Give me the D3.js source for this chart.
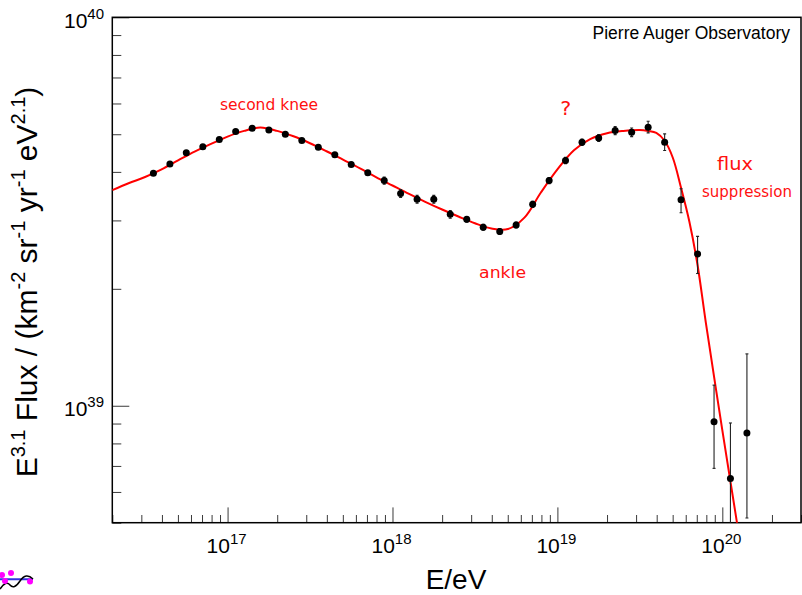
<!DOCTYPE html>
<html>
<head>
<meta charset="utf-8">
<script src="https://cdn.jsdelivr.net/npm/d3@7"></script>
<style>
  html, body { margin: 0; padding: 0; background: #fff; }
  svg { display: block; font-family: "Liberation Sans", Arial, Helvetica, sans-serif; }
</style>
</head>
<body>
<svg id="chart" width="802" height="595"></svg>
<script>
// ---- Measured spectrum: bin centres in eV and E^3.1-weighted flux ----
const energy = [
  3.55e16, 4.47e16, 5.62e16, 7.08e16, 8.91e16,
  1.12e17, 1.41e17, 1.78e17, 2.24e17, 2.82e17, 3.55e17, 4.47e17, 5.62e17, 7.08e17, 8.91e17,
  1.12e18, 1.41e18, 1.78e18, 2.24e18, 2.82e18, 3.55e18, 4.47e18, 5.62e18, 7.08e18, 8.91e18,
  1.12e19, 1.41e19, 1.78e19, 2.24e19, 2.82e19, 3.55e19, 4.47e19, 5.62e19, 7.08e19, 8.91e19,
  1.12e20, 1.41e20
];
const flux = [
  3.97e39, 4.19e39, 4.48e39, 4.64e39, 4.85e39,
  5.08e39, 5.18e39, 5.13e39, 5.00e39, 4.82e39, 4.63e39, 4.43e39, 4.18e39, 3.98e39, 3.80e39,
  3.52e39, 3.40e39, 3.40e39, 3.11e39, 3.02e39, 2.88e39, 2.81e39, 2.92e39, 3.30e39, 3.80e39,
  4.28e39, 4.77e39, 4.89e39, 5.11e39, 5.06e39, 5.21e39, 4.77e39, 3.39e39, 2.46e39, 9.10e38,
  6.50e38, 8.51e38
];
// statistical uncertainties (absolute, same units as flux)
const fluxErrUp = [
  0.02e39, 0.02e39, 0.02e39, 0.02e39, 0.02e39,
  0.02e39, 0.02e39, 0.02e39, 0.02e39, 0.02e39, 0.02e39, 0.02e39, 0.02e39, 0.02e39, 0.08e39,
  0.08e39, 0.08e39, 0.08e39, 0.07e39, 0.05e39, 0.05e39, 0.05e39, 0.05e39, 0.06e39, 0.07e39,
  0.08e39, 0.09e39, 0.10e39, 0.12e39, 0.13e39, 0.19e39, 0.24e39, 0.23e39, 0.27e39, 0.22e39,
  0.253e39, 0.509e39
];
const fluxErrDown = [
  0.02e39, 0.02e39, 0.02e39, 0.02e39, 0.02e39,
  0.02e39, 0.02e39, 0.02e39, 0.02e39, 0.02e39, 0.02e39, 0.02e39, 0.02e39, 0.02e39, 0.08e39,
  0.08e39, 0.08e39, 0.08e39, 0.07e39, 0.05e39, 0.05e39, 0.05e39, 0.05e39, 0.06e39, 0.07e39,
  0.08e39, 0.09e39, 0.10e39, 0.12e39, 0.13e39, 0.17e39, 0.23e39, 0.25e39, 0.27e39, 0.22e39,
  0.35e39, 0.337e39
];

// ---- Fitted spectral model (sampled) ----
const fitEnergy = [
  2.00e16, 2.51e16, 3.16e16, 3.98e16, 5.01e16, 6.31e16, 7.94e16,
  1.00e17, 1.26e17, 1.58e17, 2.00e17, 2.51e17, 3.16e17, 3.98e17, 5.01e17, 6.31e17, 7.94e17,
  1.00e18, 1.26e18, 1.58e18, 2.00e18, 2.51e18, 3.16e18, 3.98e18, 5.01e18, 6.31e18, 7.94e18,
  1.00e19, 1.26e19, 1.58e19, 2.00e19, 2.51e19, 3.16e19, 3.55e19, 3.98e19, 4.47e19, 5.01e19,
  5.62e19, 6.31e19, 7.08e19, 7.94e19, 1.00e20, 1.26e20
];
const fitFlux = [
  3.59e39, 3.74e39, 3.88e39, 4.06e39, 4.28e39, 4.51e39, 4.72e39,
  4.93e39, 5.10e39, 5.20e39, 5.10e39, 4.94e39, 4.74e39, 4.52e39, 4.30e39, 4.09e39, 3.88e39,
  3.69e39, 3.51e39, 3.35e39, 3.20e39, 3.07e39, 2.95e39, 2.86e39, 2.85e39, 3.05e39, 3.54e39,
  4.06e39, 4.55e39, 4.86e39, 5.03e39, 5.10e39, 5.13e39, 5.10e39, 5.04e39, 4.81e39, 4.35e39,
  3.64e39, 2.98e39, 2.30e39, 1.64e39, 8.66e38, 4.66e38
];

// ---- Axis settings ----
const xDomain = [2e16, 3e20];
const yDomain = [5e38, 1e40];
const xTitle = "E/eV";
const chartLabel = "Pierre Auger Observatory";
// hand annotations: text, anchor energy / flux (left end of baseline), width in px
const notes = [
  { text: "second knee", e: 9.0e16,  f: 5.77e39, w: 98, size: 16 },
  { text: "?",           e: 1.04e19, f: 5.62e39, w: 11, size: 19 },
  { text: "ankle",       e: 3.35e18, f: 2.13e39, w: 47, size: 16 },
  { text: "flux",        e: 9.29e19, f: 4.05e39, w: 36, size: 18 },
  { text: "suppression", e: 7.53e19, f: 3.45e39, w: 90, size: 16 }
];

// ---- Layout ----
const box = { left: 112.3, right: 801, top: 17.3, bottom: 522.7 };
const svg = d3.select("#chart");

const x = d3.scaleLog().domain(xDomain).range([box.left, box.right]);
const y = d3.scaleLog().domain(yDomain).range([box.bottom, box.top]);

const isDecade = v => Math.abs(Math.log10(v) - Math.round(Math.log10(v))) < 1e-9;

svg.append("defs").append("clipPath").attr("id", "plotArea")
  .append("rect")
  .attr("x", box.left).attr("y", box.top)
  .attr("width", box.right - box.left).attr("height", box.bottom - box.top);

// ---- Ticks (drawn inward, ROOT style) ----
const xTicks = x.ticks();
const yTicks = y.ticks();

const gx = svg.append("g").attr("transform", `translate(0,${box.bottom})`);
gx.append("g").call(d3.axisBottom(x).tickValues(xTicks.filter(v => !isDecade(v)))
  .tickSize(-7.7).tickFormat(""));
gx.append("g").call(d3.axisBottom(x).tickValues(xTicks.filter(isDecade))
  .tickSize(-15.3).tickFormat(""));

const gy = svg.append("g").attr("transform", `translate(${box.left},0)`);
gy.append("g").call(d3.axisLeft(y).tickValues(yTicks.filter(v => !isDecade(v)))
  .tickSize(-9).tickFormat(""));
gy.append("g").call(d3.axisLeft(y).tickValues(yTicks.filter(isDecade))
  .tickSize(-17).tickFormat(""));

svg.selectAll(".domain").remove();
svg.selectAll(".tick line").attr("stroke", "#3a3a3a").attr("stroke-width", 1);

// power-of-ten labels
function powerLabel(g, v, xPos, yPos, anchor) {
  const t = g.append("text")
    .attr("x", xPos).attr("y", yPos)
    .attr("text-anchor", anchor)
    .attr("fill", "#000")
    .style("font-size", "21px");
  t.append("tspan").text("10");
  t.append("tspan").attr("dy", -9.3).style("font-size", "15px")
    .text(String(Math.round(Math.log10(v))));
}
const labels = svg.append("g");
xTicks.filter(isDecade).forEach(v => powerLabel(labels, v, x(v) - 1, 553.3, "middle"));
yTicks.filter(isDecade).forEach(v => powerLabel(labels, v, 104, y(v) + 10.5, "end"));

// ---- Frame ----
svg.append("rect")
  .attr("x", box.left).attr("y", box.top)
  .attr("width", box.right - box.left).attr("height", box.bottom - box.top)
  .attr("fill", "none").attr("stroke", "#000").attr("stroke-width", 1.5);

// ---- Fit curve ----
const fitLine = d3.line()
  .x(d => x(d[0])).y(d => y(d[1]))
  .curve(d3.curveCatmullRom.alpha(0.5));
svg.append("path")
  .datum(fitEnergy.map((e, i) => [e, fitFlux[i]]))
  .attr("clip-path", "url(#plotArea)")
  .attr("d", fitLine)
  .attr("fill", "none").attr("stroke", "#ff0000").attr("stroke-width", 2);

// ---- Data points with error bars ----
const pts = energy.map((e, i) => ({
  e, f: flux[i], hi: flux[i] + fluxErrUp[i], lo: flux[i] - fluxErrDown[i]
}));
const gp = svg.append("g").attr("clip-path", "url(#plotArea)");
const bars = gp.selectAll("g.err").data(pts).join("g").attr("class", "err")
  .attr("stroke", "#222").attr("stroke-width", 1.1);
bars.append("line")
  .attr("x1", d => x(d.e)).attr("x2", d => x(d.e))
  .attr("y1", d => y(d.hi)).attr("y2", d => y(d.lo));
bars.append("line")
  .attr("x1", d => x(d.e) - 1.5).attr("x2", d => x(d.e) + 1.5)
  .attr("y1", d => y(d.hi)).attr("y2", d => y(d.hi));
bars.append("line")
  .attr("x1", d => x(d.e) - 1.5).attr("x2", d => x(d.e) + 1.5)
  .attr("y1", d => y(d.lo)).attr("y2", d => y(d.lo));
gp.selectAll("circle").data(pts).join("circle")
  .attr("cx", d => x(d.e)).attr("cy", d => y(d.f)).attr("r", 3.5)
  .attr("fill", "#000");

// ---- Handwritten-style annotations ----
svg.append("g").selectAll("text").data(notes).join("text")
  .attr("x", d => x(d.e)).attr("y", d => y(d.f))
  .attr("text-anchor", "start")
  .attr("textLength", d => d.w)
  .attr("lengthAdjust", "spacingAndGlyphs")
  .attr("fill", "#ff1010")
  .style("font-family", "'DejaVu Sans', sans-serif")
  .style("font-size", d => d.size + "px")
  .text(d => d.text);

// ---- Titles ----
svg.append("text")
  .attr("x", 790).attr("y", 38.5)
  .attr("text-anchor", "end")
  .style("font-size", "17.5px")
  .text(chartLabel);

svg.append("text")
  .attr("x", 456).attr("y", 589)
  .attr("text-anchor", "middle")
  .style("font-size", "28px")
  .text(xTitle);

const yTitle = svg.append("text")
  .attr("transform", "translate(37,282) rotate(-90)")
  .attr("text-anchor", "middle")
  .style("font-size", "30px");
const yParts = [
  ["E", false], ["3.1", true], [" Flux / (km", false], ["-2", true],
  [" sr", false], ["-1", true], [" yr", false], ["-1", true],
  [" eV", false], ["2.1", true], [")", false]
];
let raised = false;
yParts.forEach(([s, sup]) => {
  const ts = yTitle.append("tspan").text(s);
  if (sup && !raised) { ts.attr("dy", -12.5).style("font-size", "20px"); raised = true; }
  else if (sup) { ts.style("font-size", "20px"); }
  else if (!sup && raised) { ts.attr("dy", 12.5); raised = false; }
});

// ---- Clipped legend fragment at lower left ----
const frag = svg.append("g");
frag.append("line").attr("x1", 0).attr("x2", 33).attr("y1", 579.3).attr("y2", 579.3)
  .attr("stroke", "#3333dd").attr("stroke-width", 2);
frag.append("path").attr("d", "M0,589 Q6,580 10,585 T20,581 T33,579")
  .attr("fill", "none").attr("stroke", "#000").attr("stroke-width", 1.5);
[[2, 575], [11, 573], [30, 581.5], [5, 581]].forEach(([cx, cy]) =>
  frag.append("circle").attr("cx", cx).attr("cy", cy).attr("r", 3).attr("fill", "#ff00ff"));
</script>
</body>
</html>
